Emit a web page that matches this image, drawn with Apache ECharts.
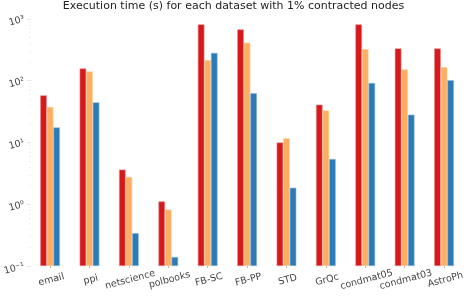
<!DOCTYPE html>
<html><head><meta charset="utf-8">
<script src="https://cdn.jsdelivr.net/npm/echarts@6/dist/echarts.min.js"></script>
<style>html,body{margin:0;padding:0;background:#fff}#c{width:467px;height:299px}</style>
</head><body><div id="c"></div>
<script>
const categories = ['email','ppi','netscience','polbooks','FB-SC','FB-PP','STD','GrQc','condmat05','condmat03','AstroPh'];
const seriesRed = [58, 158, 3.64, 1.11, 819, 679, 10, 41, 819, 334, 334];
const seriesOrange = [37.5, 141, 2.77, 0.82, 215, 412, 11.7, 33, 325, 152, 166];
const seriesBlue = [17.5, 44.7, 0.34, 0.14, 283, 62.6, 1.85, 5.4, 92, 28.2, 102];
const yTickLabels = {'0.1':'10⁻¹','1':'10⁰','10':'10¹','100':'10²','1000':'10³'};
const titleText = 'Execution time (s) for each dataset with 1% contracted nodes';

const chart = echarts.init(document.getElementById('c'), null, {renderer:'canvas'});
const font = 'DejaVu Sans';
function mk(name, data, color, edge){
  return {name, type:'bar', data, barGap:'0%', barCategoryGap:'50%',
    itemStyle:{color, borderColor:edge, borderWidth:0.6}};
}
chart.setOption({
  animation:false,
  backgroundColor:'#fff',
  title:{text:titleText, left:'center', top:1, padding:0,
    textStyle:{fontFamily:font, fontSize:11, fontWeight:'normal', color:'#222'}},
  grid:{left:28.5, right:2, top:19, bottom:33, containLabel:false},
  xAxis:{type:'category', data:categories,
    axisLine:{show:false},
    axisTick:{show:true, alignWithLabel:true, length:2, lineStyle:{color:'#bbb'}},
    axisLabel:{rotate:15, align:'center', verticalAlign:'top', margin:9, interval:0,
      fontFamily:font, fontSize:9.5, color:'#444'}},
  yAxis:{type:'log', logBase:10, min:0.1, max:1000, startValue:0.1,
    axisLine:{show:false},
    axisTick:{show:true, length:3, lineStyle:{color:'#ccc', type:'dotted'}},
    minorTick:{show:true, splitNumber:9, length:2, lineStyle:{color:'#e4e4e4', type:'dotted'}},
    splitLine:{show:false},
    axisLabel:{rotate:15, margin:6, fontFamily:font, fontSize:9.5, color:'#444',
      formatter:v=>{const k=String(+v.toPrecision(3)); return yTickLabels[k]||'';}}},
  series:[
    mk('red', seriesRed, '#d7191c', '#e88a8c'),
    mk('orange', seriesOrange, '#fdae61', '#fdd0a0'),
    mk('blue', seriesBlue, '#2c7bb6', '#8cb8dc')
  ]
});
</script></body></html>
